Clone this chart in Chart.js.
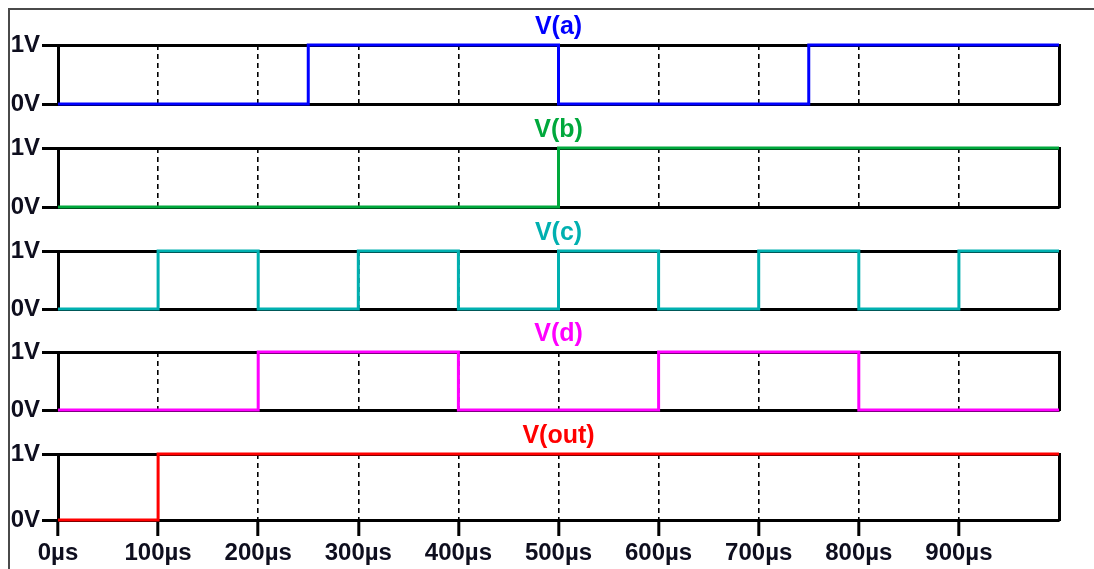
<!DOCTYPE html>
<html>
<head>
<meta charset="utf-8">
<script src="https://cdn.jsdelivr.net/npm/chart.js@4.4.1/dist/chart.umd.min.js"></script>
<style>
  html, body { margin: 0; padding: 0; background: #fff; overflow: hidden; }
  #page { position: relative; width: 1094px; height: 569px; overflow: hidden; }
  #frame { position: absolute; left: 8px; top: 8px; width: 1100px; height: 580px;
           border-left: 2px solid #4a4a4a; border-top: 2px solid #4a4a4a; }
  canvas { position: absolute; left: 0; }
</style>
</head>
<body>
<div id="page">
  <div id="frame"></div>
</div>
<script>
// time axis in µs, one tick every 100µs
const timeMin = 0;
const timeMax = 1000;
const timeStep = 100;
const voltTicks = [0, 1];

// each trace: switching times (µs) and the level held from that time on
const vaTimes = [0, 250, 500, 750, 1000];
const vaLevels = [0, 1, 0, 1, 1];

const vbTimes = [0, 500, 1000];
const vbLevels = [0, 1, 1];

const vcTimes = [0, 100, 200, 300, 400, 500, 600, 700, 800, 900, 1000];
const vcLevels = [0, 1, 0, 1, 0, 1, 0, 1, 0, 1, 1];

const vdTimes = [0, 200, 400, 600, 800, 1000];
const vdLevels = [0, 1, 0, 1, 0, 0];

const voutTimes = [0, 100, 1000];
const voutLevels = [0, 1, 1];

const traceNames = ['V(a)', 'V(b)', 'V(c)', 'V(d)', 'V(out)'];
const traceColors = ['#0000ff', '#00a83c', '#00b0b0', '#ff00ff', '#ff0000'];
const traceTimes = [vaTimes, vbTimes, vcTimes, vdTimes, voutTimes];
const traceLevels = [vaLevels, vbLevels, vcLevels, vdLevels, voutLevels];

// plot box top/bottom of each panel (page pixels)
const boxTops = [44, 147, 250, 351, 453];
const boxBottoms = [104, 207, 309, 410, 520];

const ABOVE = 40;      // room for the trace name
const LEFT = 58;       // y axis width
const RIGHT = 35;      // space right of the box
const labelColor = '#0e0e1e';

Chart.defaults.font.family = "'Liberation Sans', Arial, sans-serif";
Chart.defaults.font.weight = 'bold';

const page = document.getElementById('page');

traceNames.forEach(function(name, i) {
    const last = i === traceNames.length - 1;
    const below = last ? 569 - boxBottoms[i] : 20;
    const canvas = document.createElement('canvas');
    canvas.width = 1094;
    canvas.height = ABOVE + (boxBottoms[i] - boxTops[i]) + below;
    canvas.style.top = (boxTops[i] - ABOVE) + 'px';
    page.appendChild(canvas);

    const points = traceTimes[i].map((t, k) => ({ x: t, y: traceLevels[i][k] }));

    new Chart(canvas.getContext('2d'), {
        type: 'line',
        data: {
            datasets: [{
                label: name,
                data: points,
                borderColor: traceColors[i],
                borderWidth: 3,
                stepped: true,
                pointRadius: 0,
                fill: false,
                tension: 0,
                clip: 4
            }]
        },
        options: {
            responsive: false,
            animation: false,
            layout: { padding: 0 },
            plugins: {
                legend: { display: false },
                tooltip: { enabled: false },
                title: {
                    display: true,
                    text: name,
                    color: traceColors[i],
                    fullSize: false,
                    font: { size: 25, weight: 'bold', lineHeight: 1 },
                    padding: { top: 11, bottom: 2 }
                }
            },
            scales: {
                x: {
                    type: 'linear',
                    position: 'bottom',
                    min: timeMin,
                    max: timeMax,
                    grid: {
                        color: '#000',
                        lineWidth: 1.6,
                        drawTicks: last,
                        tickLength: 16,
                        tickWidth: 3,
                        tickColor: '#000'
                    },
                    border: { color: '#000', width: 3, dash: [5, 4] },
                    ticks: {
                        display: last,
                        stepSize: timeStep,
                        autoSkip: false,
                        maxRotation: 0,
                        padding: 3,
                        color: labelColor,
                        font: { size: 24, weight: 'bold', lineHeight: 1.2 },
                        callback: v => v === timeMax ? null : v + 'µs'
                    },
                    afterFit: s => { s.height = below; }
                },
                x2: {
                    type: 'linear',
                    position: 'top',
                    min: timeMin,
                    max: timeMax,
                    grid: { drawOnChartArea: false, drawTicks: false },
                    border: { color: '#000', width: 3 },
                    ticks: { display: false },
                    afterFit: s => { s.height = 3; }
                },
                y: {
                    type: 'linear',
                    position: 'left',
                    min: voltTicks[0],
                    max: voltTicks[voltTicks.length - 1],
                    grid: {
                        drawOnChartArea: false,
                        drawTicks: true,
                        tickLength: 16,
                        tickWidth: 3,
                        tickColor: '#000'
                    },
                    border: { color: '#000', width: 3 },
                    ticks: {
                        stepSize: 1,
                        padding: 2,
                        color: labelColor,
                        font: { size: 24, weight: 'bold' },
                        callback: v => v + 'V'
                    },
                    afterFit: s => { s.width = LEFT; }
                },
                y2: {
                    type: 'linear',
                    position: 'right',
                    min: 0,
                    max: 1,
                    grid: { drawOnChartArea: false, drawTicks: false },
                    border: { color: '#000', width: 3 },
                    ticks: { display: false },
                    afterFit: s => { s.width = RIGHT; }
                }
            }
        }
    });
});
</script>
</body>
</html>
